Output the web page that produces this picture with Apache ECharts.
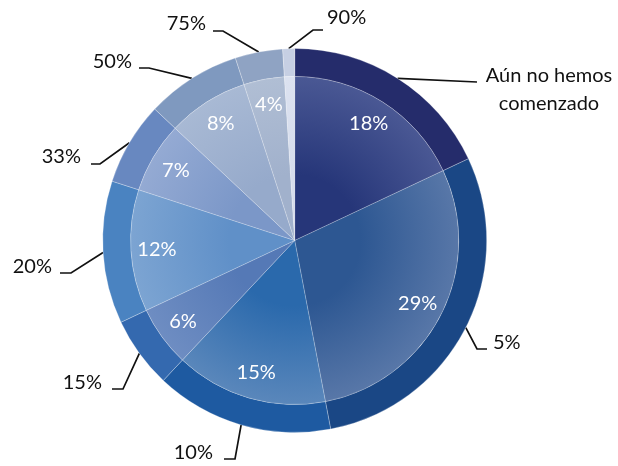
<!DOCTYPE html>
<html>
<head>
<meta charset="utf-8">
<script src="https://cdn.jsdelivr.net/npm/echarts@6/dist/echarts.min.js"></script>
<style>
html,body{margin:0;padding:0;background:#fff;}
#chart{width:618px;height:466px;}
</style>
</head>
<body>
<div id="chart"></div>
<script>
// ---- data ----
const categories = ['Aún no hemos\ncomenzado', '5%', '10%', '15%', '20%', '33%', '50%', '75%', '90%'];
const values = [18, 29, 15, 6, 12, 7, 8, 4, 1];

// ---- styles ----
const ringColors = ['#252C6B', '#1A4785', '#1E5AA1', '#3469AF', '#4A83C1', '#6888C0', '#7F99BF', '#8FA3C3', '#C6CFE3'];
const innerDark  = ['#263679', '#2D5792', '#2A69AC', '#5579B6', '#6090C8', '#7B97C8', '#96AACB', '#A1B1CC', '#D5DCEC'];
const innerLight = ['#4A5894', '#5877A8', '#5A87BB', '#6E8DC2', '#7CA4D2', '#94AAD3', '#A8B9D4', '#B0BED4', '#DCE2F0'];

const CX = 294.7, CY = 240.5, R_OUT = 192, R_IN = 164;
const FONT = 'Lato, "Noto Sans", sans-serif';

// label layout: [align, textX, textY, elbowX, elbowY, endX, endY]
const labelPlace = [
  ['center', 549, 90, null, null, 477, 82],
  ['left', 493, 343, 477, 349, 487, 349],
  ['right', 213, 453, 235, 459, 224, 459],
  ['right', 102, 383, 123, 389, 112, 389],
  ['right', 52, 267, 71, 273, 60, 273],
  ['right', 81, 157, 100, 164, 91, 164],
  ['right', 132, 62, 149, 68, 139, 68],
  ['right', 206, 24, 223, 31, 213, 31],
  ['left', 327, 18, 313, 30, 323, 30]
];

const chart = echarts.init(document.getElementById('chart'), null, {renderer: 'canvas'});

const ringData = categories.map((n, i) => ({
  name: n, value: values[i],
  itemStyle: {color: ringColors[i]}
}));
const innerData = categories.map((n, i) => ({
  name: n, value: values[i],
  itemStyle: {
    color: {
      type: 'radial', x: CX, y: CY, r: R_IN, global: true,
      colorStops: [
        {offset: 0, color: innerDark[i]},
        {offset: 0.4, color: innerDark[i]},
        {offset: 1, color: innerLight[i]}
      ]
    }
  }
}));
const labelData = categories.map((n, i) => ({
  name: n, value: values[i],
  label: {show: i < values.length - 1}
}));

chart.setOption({
  animation: false,
  backgroundColor: '#ffffff',
  series: [
    {
      type: 'pie',
      center: [CX, CY],
      radius: [R_IN, R_OUT],
      startAngle: 90,
      clockwise: true,
      avoidLabelOverlap: false,
      silent: true,
      itemStyle: {borderColor: 'rgba(255,255,255,0.45)', borderWidth: 0.6},
      label: {
        show: true, position: 'outside', color: '#111', fontFamily: FONT,
        fontSize: 20, lineHeight: 28, formatter: '{b}'
      },
      labelLine: {show: true, lineStyle: {color: '#111', width: 1.7}},
      labelLayout: function (p) {
        const L = labelPlace[p.dataIndex];
        const s = p.labelLinePoints ? p.labelLinePoints[0] : [CX, CY];
        const pts = [s];
        if (L[3] !== null) pts.push([L[3], L[4]]);
        pts.push([L[5], L[6]]);
        return {x: L[1], y: L[2], align: L[0], verticalAlign: 'middle', labelLinePoints: pts};
      },
      data: ringData
    },
    {
      type: 'pie',
      center: [CX, CY],
      radius: [0, R_IN],
      startAngle: 90,
      clockwise: true,
      silent: true,
      itemStyle: {borderColor: 'rgba(255,255,255,0.35)', borderWidth: 0.6},
      label: {show: false},
      labelLine: {show: false},
      data: innerData
    },
    {
      type: 'pie',
      center: [CX, CY],
      radius: [106, R_IN],
      startAngle: 90,
      clockwise: true,
      silent: true,
      itemStyle: {color: 'rgba(0,0,0,0)', borderWidth: 0},
      label: {
        show: true, position: 'inside', color: '#ffffff', fontFamily: FONT,
        fontSize: 20, formatter: '{c}%'
      },
      labelLine: {show: false},
      data: labelData
    }
  ]
});
</script>
</body>
</html>
